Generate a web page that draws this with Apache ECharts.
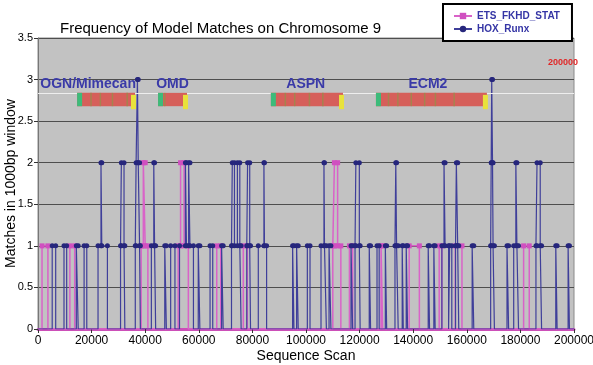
<!DOCTYPE html>
<html>
<head>
<meta charset="utf-8">
<script src="https://cdn.jsdelivr.net/npm/echarts@6/dist/echarts.min.js"></script>
<style>html,body{margin:0;padding:0;background:#fff}#c{width:593px;height:365px}</style>
</head>
<body>
<div id="c"></div>
<script>
// ---- data ----
const seriesNames = ['ETS_FKHD_STAT', 'HOX_Runx'];
const xTicks = [0, 20000, 40000, 60000, 80000, 100000, 120000, 140000, 160000, 180000, 200000];
const yTicks = [0, 0.5, 1, 1.5, 2, 2.5, 3, 3.5];

// level changes: at position etsPos[i] the count becomes etsLevel[i]
const etsPos = [1500, 3700, 11900, 13700, 38500, 39300, 40000, 41000, 52300, 53200, 54500, 56100,
  66700, 68200, 76600, 78100, 110000, 110600, 111800, 113000, 116200, 117400, 128000, 128600,
  138500, 142300, 149700, 150700, 155700, 158200, 181200, 183300];
const etsLevel = [1, 0, 1, 0, 1, 2, 1, 0, 1, 2, 1, 0,
  1, 0, 1, 0, 1, 2, 1, 0, 1, 0, 1, 0,
  1, 0, 1, 0, 1, 0, 1, 0];

const hoxPos = [5300, 6600, 9700, 10700, 14300, 15000, 17200, 18200,
  22400, 23500, 23800, 25900, 30800, 31100, 32100, 32400,
  36300, 36600, 37100, 37400, 37900, 38200, 42300, 43200, 43500, 43900,
  47300, 47900, 49500, 51100, 52800, 55000, 55400, 56200, 56700, 58000,
  59800, 60400, 64200, 65200, 68500, 69100,
  72200, 72500, 73300, 74400, 75300, 75800, 77900, 78200, 79000, 79300,
  82200, 84300, 84500, 85300, 95000, 95500, 96500, 97100, 100500, 101500,
  105600, 106700, 106900, 107600, 108600, 109300, 116800, 117400,
  118300, 118600, 119900, 120200, 123600, 124100, 126500, 127300, 129600, 130100,
  133200, 133500, 133800, 134400, 135900, 136300, 137400, 137900,
  145600, 146100, 147700, 148200, 150700, 151500, 151900, 153200, 153600, 154400,
  155800, 156100, 156600, 157000, 162000, 162600,
  168900, 169100, 169300, 169600, 169800, 170300,
  175000, 175600, 177500, 178300, 178700, 179300, 185800, 186200, 187400, 187900,
  193200, 193700, 197800, 198300];
const hoxLevel = [1, 0, 1, 0, 1, 0, 1, 0,
  1, 2, 1, 0, 1, 2, 1, 0,
  1, 2, 3, 2, 1, 0, 1, 2, 1, 0,
  1, 0, 1, 0, 1, 2, 1, 2, 1, 0,
  1, 0, 1, 0, 1, 0,
  1, 2, 1, 2, 1, 0, 1, 2, 1, 0,
  1, 2, 1, 0, 1, 0, 1, 0, 1, 0,
  1, 2, 1, 0, 1, 0, 1, 0,
  1, 2, 1, 0, 1, 0, 1, 0, 1, 0,
  1, 2, 1, 0, 1, 0, 1, 0,
  1, 0, 1, 0, 1, 2, 1, 0, 1, 0,
  1, 2, 1, 0, 1, 0,
  1, 2, 3, 2, 1, 0,
  1, 0, 1, 2, 1, 0, 1, 2, 1, 0,
  1, 0, 1, 0];

const geneNames = ['OGN/Mimecan', 'OMD', 'ASPN', 'ECM2'];
const geneStart = [14600, 44800, 86900, 126100];
const geneEnd = [36200, 55600, 113800, 167500];
const geneLabelX = [18700, 50200, 99900, 145500];
const geneStripes = [[19500, 23000, 27500, 33000], [47000], [92000, 95500, 101000, 106000], [130500, 134000, 139000, 144000, 148000, 155000]];

// ---- build step tables ----
function buildSteps(pos, lev) {
  const out = [[0, 0]];
  let prev = 0;
  for (let i = 0; i < pos.length; i++) {
    out.push([pos[i], prev]);
    out.push([pos[i], lev[i]]);
    prev = lev[i];
  }
  out.push([200000, prev]);
  return out;
}
const etsData = buildSteps(etsPos, etsLevel);
const hoxData = buildSteps(hoxPos, hoxLevel);
const geneData = geneNames.map((n, i) => [geneStart[i], geneEnd[i], geneLabelX[i], i]);

const chart = echarts.init(document.getElementById('c'), null, {renderer: 'canvas'});
const FONT = '"Liberation Sans", Arial, sans-serif';

chart.setOption({
  animation: false,
  backgroundColor: '#ffffff',
  title: {
    text: 'Frequency of Model Matches on Chromosome 9',
    left: 55, top: 16,
    textStyle: {fontFamily: FONT, fontSize: 15, fontWeight: 'normal', color: '#000'}
  },
  legend: {
    data: seriesNames,
    orient: 'vertical',
    left: 443, top: 4,
    padding: [7, 12, 7, 10],
    itemGap: 3,
    itemWidth: 18, itemHeight: 8,
    borderColor: '#000', borderWidth: 2,
    backgroundColor: '#fff',
    textStyle: {fontFamily: FONT, fontSize: 10, fontWeight: 'bold', color: '#3535a5'}
  },
  grid: {
    left: 38, right: 19, top: 38, bottom: 36,
    containLabel: false, outerBoundsMode: 'none',
    show: true, backgroundColor: '#c2c2c2', borderColor: '#8a8a8a', borderWidth: 1
  },
  xAxis: {
    type: 'value', min: xTicks[0], max: xTicks[xTicks.length - 1], interval: xTicks[1] - xTicks[0],
    name: 'Sequence Scan', nameLocation: 'middle', nameGap: 20, nameMoveOverlap: false,
    nameTextStyle: {fontFamily: FONT, fontSize: 14, color: '#000'},
    axisLine: {show: true, onZero: false, lineStyle: {color: '#cc4fb8', width: 3}},
    axisTick: {show: true, length: 4, lineStyle: {color: '#333'}},
    axisLabel: {fontFamily: FONT, fontSize: 12, color: '#000', margin: 6, showMaxLabel: true,
      formatter: (v) => String(v)},
    splitLine: {show: false}
  },
  yAxis: {
    type: 'value', min: yTicks[0], max: yTicks[yTicks.length - 1], interval: yTicks[1] - yTicks[0],
    name: 'Matches in 1000bp window', nameLocation: 'middle', nameGap: 20, nameRotate: 90, nameMoveOverlap: false,
    nameTextStyle: {fontFamily: FONT, fontSize: 14, color: '#000'},
    axisLine: {show: true, lineStyle: {color: '#777', width: 1}},
    axisTick: {show: true, length: 4, lineStyle: {color: '#333'}},
    axisLabel: {fontFamily: FONT, fontSize: 11, color: '#000', margin: 5, formatter: (v) => String(v)},
    splitLine: {show: true, lineStyle: {color: '#4e4e4e', width: 1}}
  },
  series: [
    {
      name: seriesNames[0], type: 'line', data: etsData, z: 3,
      symbol: 'rect',
      symbolSize: (v) => v[1] > 0 ? 5 : 0,
      showAllSymbol: true,
      lineStyle: {color: '#d963c8', width: 1.5},
      itemStyle: {color: '#d050c0'},
      emphasis: {disabled: true}
    },
    {
      name: seriesNames[1], type: 'line', data: hoxData, z: 4,
      symbol: 'circle',
      symbolSize: (v) => v[1] > 0 ? 5 : 0,
      showAllSymbol: true,
      lineStyle: {color: '#3f3f9a', width: 1.2},
      itemStyle: {color: '#26267c'},
      emphasis: {disabled: true},
      markLine: {
        silent: true, symbol: 'none', label: {show: false},
        lineStyle: {color: '#eeeeee', width: 1, type: 'solid'},
        data: [{yAxis: 2.83}]
      }
    },
    {
      type: 'custom', z: 6, data: geneData, silent: true,
      renderItem: function (params, api) {
        const s = api.value(0), e = api.value(1), lx = api.value(2), gi = api.value(3);
        const p0 = api.coord([s, 2.84]);
        const p1 = api.coord([e, 2.68]);
        const h = p1[1] - p0[1];
        const children = [
          {type: 'rect', shape: {x: p0[0], y: p0[1], width: p1[0] - p0[0], height: h}, style: {fill: '#d65f5a'}},
          {type: 'rect', shape: {x: p0[0], y: p0[1], width: 5, height: h}, style: {fill: '#3dbb7a'}}
        ];
        (geneStripes[gi] || []).forEach(function (sx) {
          const c = api.coord([sx, 0]);
          children.push({type: 'rect', shape: {x: c[0], y: p0[1], width: 1.5, height: h}, style: {fill: '#9c8a4c', opacity: 0.85}});
        });
        children.push({type: 'rect', shape: {x: p1[0] - 4, y: p0[1] + 2, width: 5, height: h + 1}, style: {fill: '#e8e23c'}});
        const lp = api.coord([lx, 2.94]);
        children.push({type: 'text', style: {text: geneNames[gi], x: lp[0], y: lp[1], align: 'center', verticalAlign: 'middle',
          font: 'bold 14px ' + FONT, fill: '#3a3aa8'}});
        return {type: 'group', children: children};
      }
    }
  ],
  graphic: [
    {type: 'text', right: 15, top: 58, style: {text: '200000', font: 'bold 9px ' + FONT, fill: '#e02828'}}
  ]
});
</script>
</body>
</html>
